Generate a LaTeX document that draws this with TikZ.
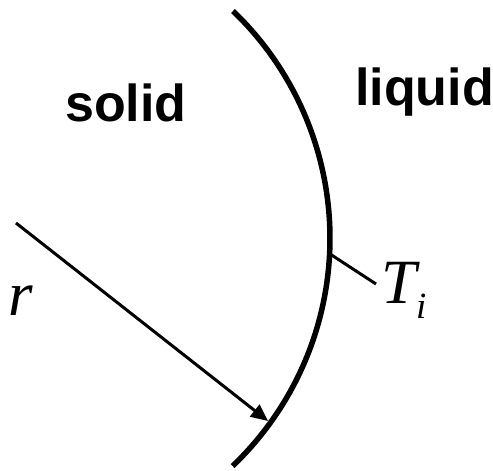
\documentclass[tikz,border=0pt]{standalone}
\usepackage{fontspec}
\setmainfont{Liberation Serif}
\setsansfont{Liberation Sans}
\usetikzlibrary{arrows.meta}
\begin{document}
\begin{tikzpicture}[x=1pt,y=-1pt,
  phase/.style={anchor=base west,inner sep=0pt,font=\sffamily\bfseries\fontsize{52}{52}\selectfont},
  sym/.style={anchor=base west,inner sep=0pt,font=\itshape\fontsize{63}{63}\selectfont}]
  \useasboundingbox (0,0) rectangle (493,471);
  % interface
  \draw[line width=5.5pt] (233,11) arc[start angle=-46.2,end angle=46.3,radius=315];
  \coordinate (c) at (16,223);
  \coordinate (tip) at (268,421);
  \coordinate (tick) at (330,254);
  \coordinate (tickend) at (376,284);
  \draw[line width=3pt,-{Triangle[length=17pt,width=15pt]}] (c) -- (tip);
  \draw[line width=3pt] (tick) -- (tickend);
  \node[phase] (solid) at (65,121) {solid};
  \node[phase] (liquid) at (355,105) {liquid};
  \node[sym] (r) at (8,315) {r};
  \node[sym] (Ti) at (381,303) {T\raisebox{-15pt}{\fontsize{37}{37}\selectfont i}};
\end{tikzpicture}
\end{document}
